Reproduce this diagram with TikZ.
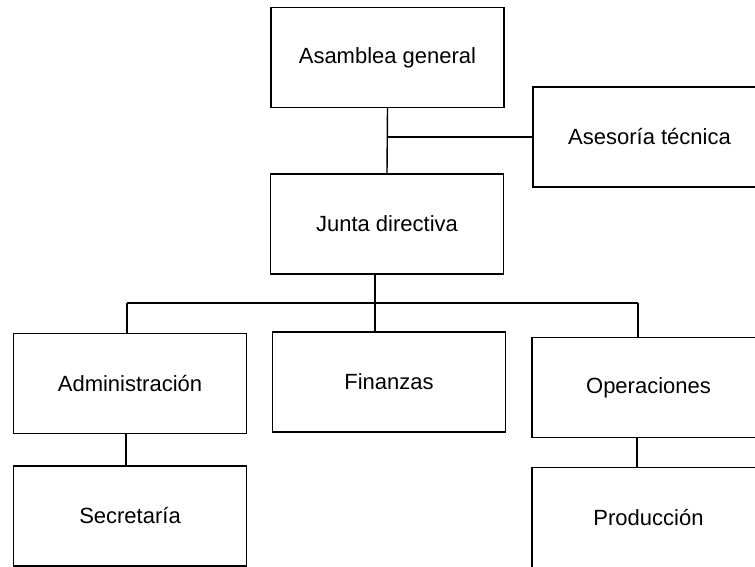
\documentclass[tikz,border=0pt]{standalone}
\usepackage{fontspec}
\setmainfont{Liberation Sans}
\usetikzlibrary{positioning}
\tikzset{font=\fontsize{11}{13}\selectfont}
\tikzset{cargo/.style={draw, line width=.7pt, minimum width=116.5pt,
    minimum height=50pt, inner sep=0pt}}

\begin{document}
\begin{tikzpicture}[x=.5pt, y=-.5pt, line width=.7pt]
  \useasboundingbox (0,0) rectangle (755,567);
  \clip (0,0) rectangle (755,567);

  \node[cargo] (asamblea) at (387.5,57.5) {Asamblea general};
  \node[cargo] (asesoria) at (649.5,137) {Asesoría técnica};
  \node[cargo] (junta) at (387,224) {Junta directiva};

  \node[cargo] (admin) at (130,383.5) {Administración};
  \node[cargo] (finanzas) at (389,382) {Finanzas};
  \node[cargo] (operaciones) at (648.5,387.5) {Operaciones};

  \node[cargo] (secretaria) at (130,516) {Secretaría};
  \node[cargo] (produccion) at (648.5,517.5) {Producción};

  % asamblea -- junta, asesoria
  \draw (asamblea.south) -- (junta.north);
  \draw (asamblea.south |- asesoria.west) -- (asesoria.west);

  % junta -- areas
  \coordinate (bus) at (375,303);
  \coordinate (busL) at (127,303);
  \coordinate (busR) at (638,303);
  \draw (junta.south -| bus) -- (bus);
  \draw (busL) -- (busR);
  \draw (busL) -- (busL |- admin.north);
  \draw (bus) -- (bus |- finanzas.north);
  \draw (busR) -- (busR |- operaciones.north);

  % areas -- subareas
  \draw ([xshift=-2pt]admin.south) -- ([xshift=-2pt]secretaria.north);
  \draw ([xshift=-5.75pt]operaciones.south) -- ([xshift=-5.75pt]produccion.north);

\end{tikzpicture}
\end{document}
